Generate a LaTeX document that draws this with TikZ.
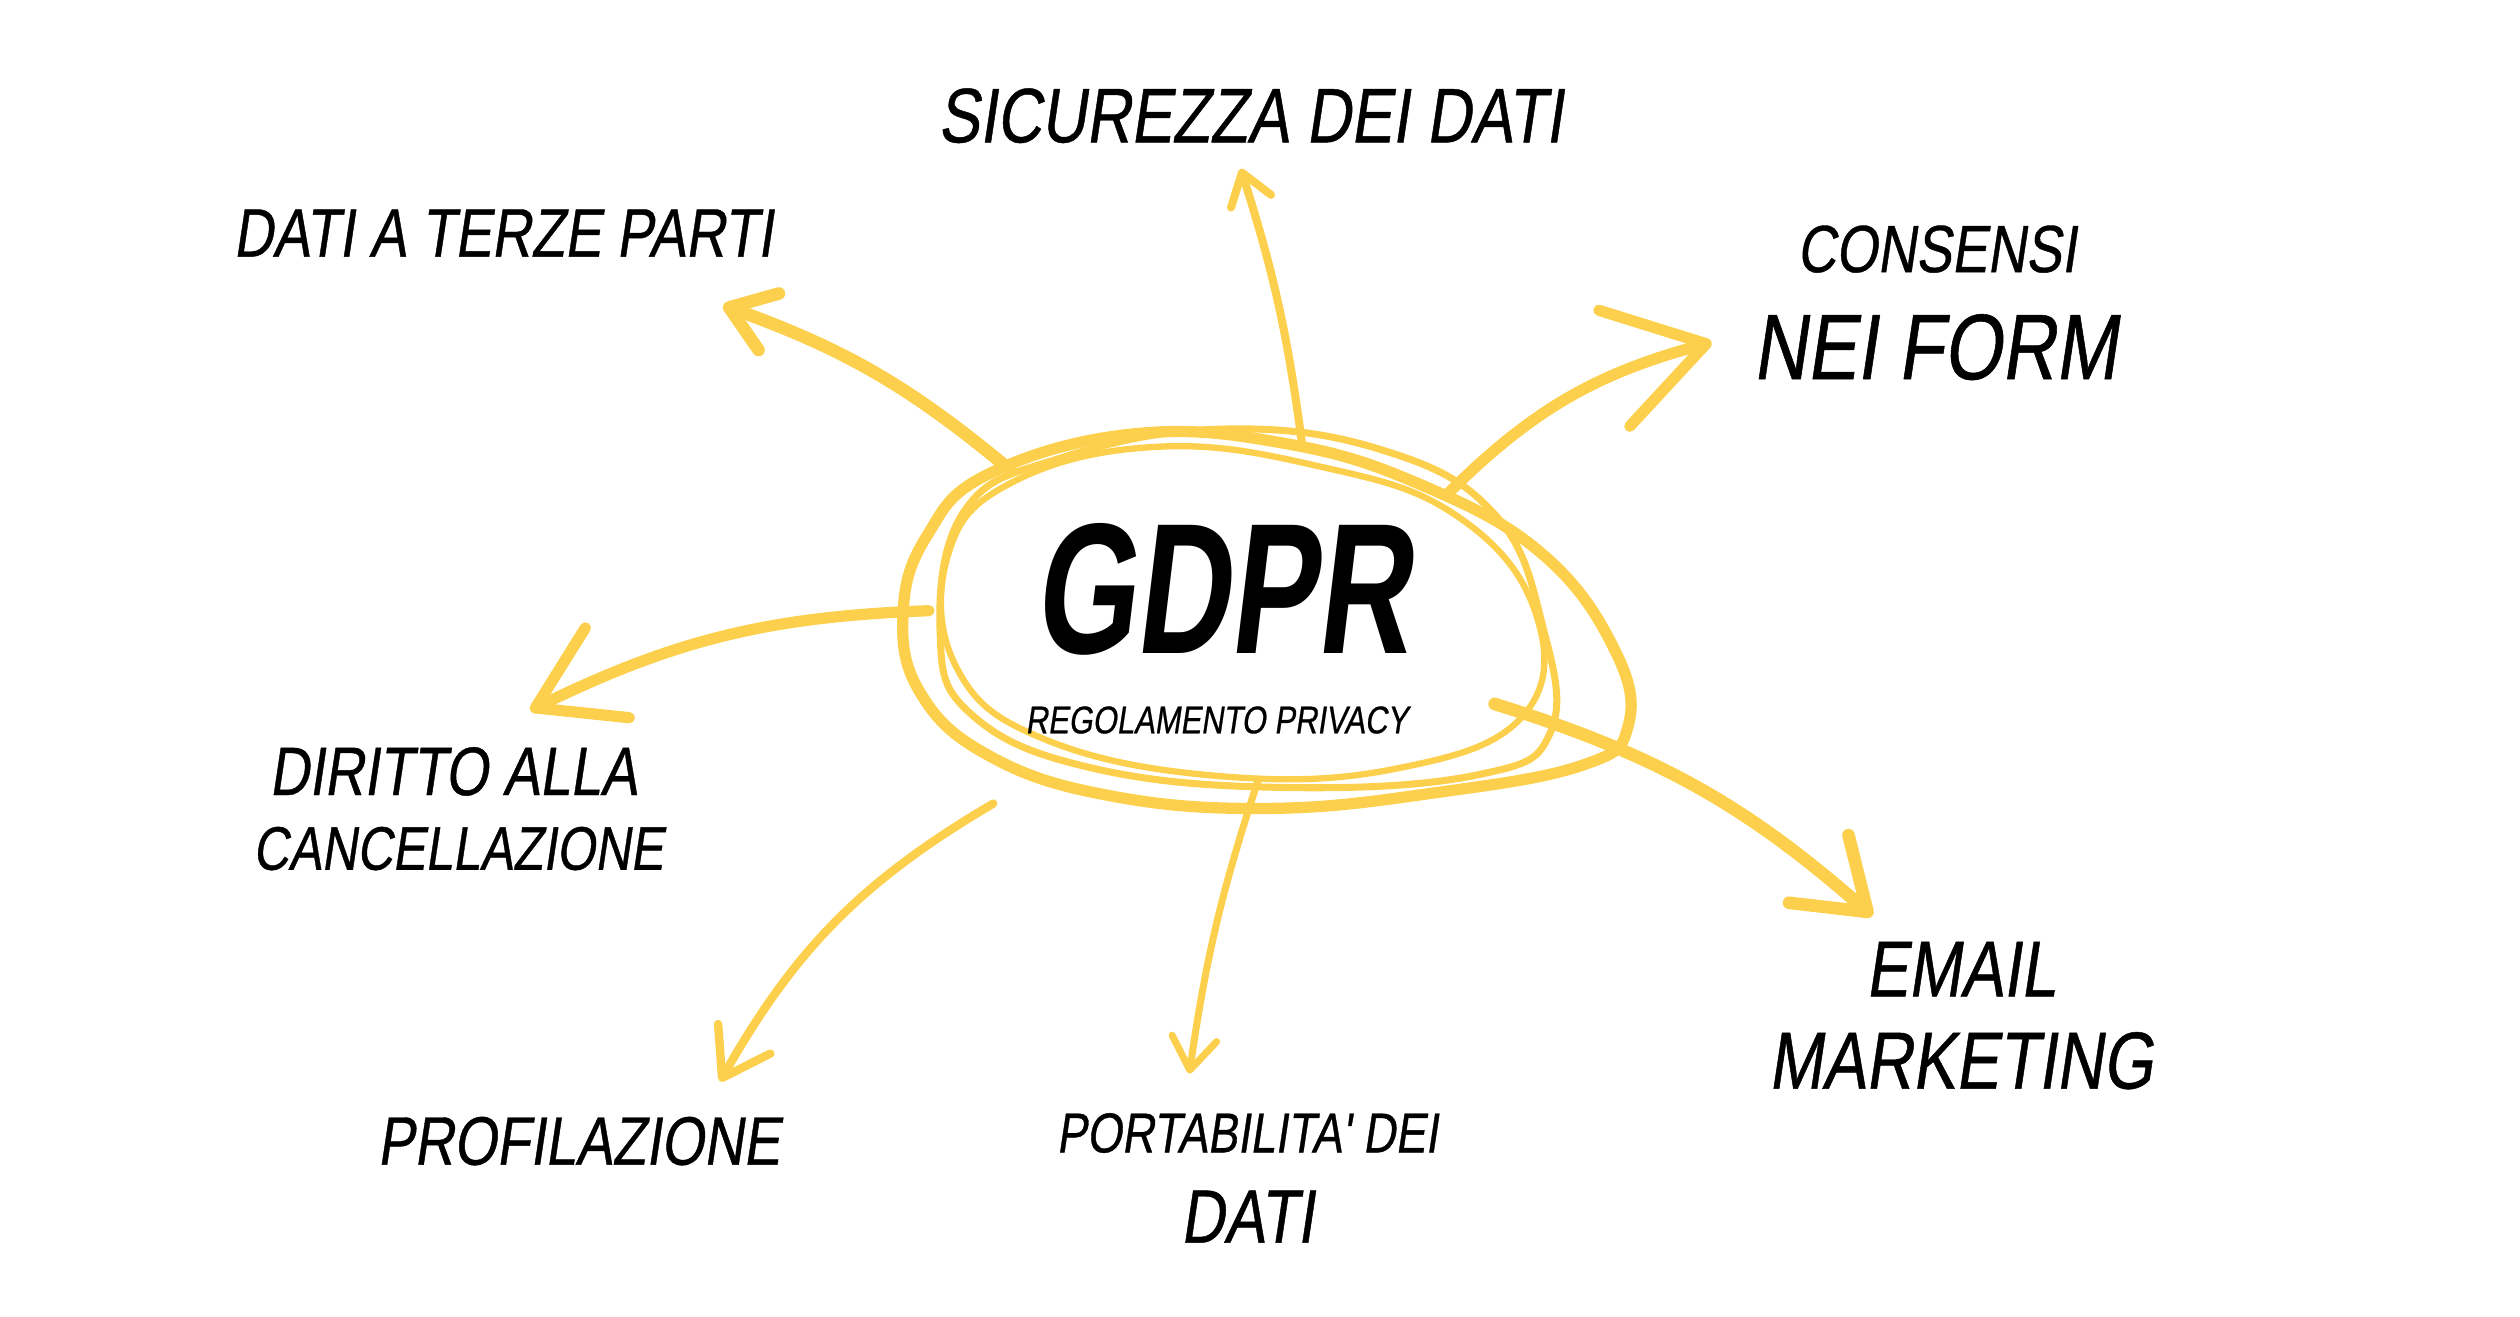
\documentclass[tikz,border=0pt]{standalone}
\usepackage{fontspec}
\newfontfamily\handfont[FakeStretch=0.8,FakeSlant=0.15,FakeBold=0.6]{Liberation Sans}
\newfontfamily\headfont[FakeStretch=0.7,FakeSlant=0.12]{Liberation Sans}
\definecolor{gdpryellow}{RGB}{252,208,76}
\usetikzlibrary{arrows.meta}

\begin{document}
\begin{tikzpicture}[x=0.01607cm, y=-0.01607cm,
    topic/.style={font=\handfont\fontsize{#1}{#1}\selectfont, inner sep=0pt},
    scribble/.style={draw=gdpryellow, line width=#1, line cap=round, line join=round},
    arr/.style n args={3}{draw=gdpryellow, line width=#1, line cap=round,
      -{Straight Barb[length=#2, width=#3, round]}}
  ]
    \useasboundingbox (0,0) rectangle (1568,819);
    % Scribbled loops round the title
    \draw[scribble=3.2pt] plot[smooth cycle, tension=0.7] coordinates {(615,295) (705,270) (800,276)
      (885,302) (960,345) (1005,405) (1013,452) (985,476) (895,493) (790,503) (690,495) (615,470)
      (572,430) (562,380) (577,333)};
    \draw[scribble=2pt] plot[smooth cycle, tension=0.7] coordinates {(600,318) (660,285) (760,267)
      (860,280) (930,320) (960,390) (965,455) (920,482) (800,490) (680,478) (605,445) (585,395)};
    \draw[scribble=1.8pt] plot[smooth cycle, tension=0.7] coordinates {(590,345) (630,300) (720,278)
      (820,290) (905,320) (955,380) (948,445) (870,478) (760,483) (650,460) (595,415)};
    % Title
    \node[font=\headfont\bfseries\fontsize{53}{53}\selectfont, inner sep=0pt] (gdpr) at (760,367) {GDPR};
    \node[topic=11] (regolamento) at (757,448) {REGOLAMENTO PRIVACY};
    % Topics
    \node[topic=22] (sicurezza) at (778,72) {SICUREZZA DEI DATI};
    \node[topic=19.5] (terze) at (313,145) {DATI A TERZE PARTI};
    \node[topic=19] (consensi) at (1205,155) {CONSENSI};
    \node[topic=26.5] (form) at (1204,216) {NEI FORM};
    \node[topic=19.5] (diritto) at (282,480) {DIRITTO ALLA};
    \node[topic=17.5] (cancellazione) at (285,528) {CANCELLAZIONE};
    \node[topic=19.5] (profilazione) at (360,710) {PROFILAZIONE};
    \node[topic=16] (portabilita) at (776,705) {PORTABILITA' DEI};
    \node[topic=21.5] (dati) at (776,757) {DATI};
    \node[topic=22.5] (email) at (1220,603) {EMAIL};
    \node[topic=23] (marketing) at (1220,660) {MARKETING};
    % Arrow ends
    \coordinate (terze-from) at (628,292);
    \coordinate (terze-to) at (450,190);
    \coordinate (sicurezza-from) at (810,275);
    \coordinate (sicurezza-to) at (772,105);
    \coordinate (form-from) at (900,308);
    \coordinate (form-to) at (1065,213);
    \coordinate (diritto-from) at (578,380);
    \coordinate (diritto-to) at (330,442);
    \coordinate (profilazione-from) at (618,500);
    \coordinate (profilazione-to) at (448,673);
    \coordinate (portabilita-from) at (783,485);
    \coordinate (portabilita-to) at (740,668);
    \coordinate (email-from) at (930,438);
    \coordinate (email-to) at (1165,570);
    % Arrows
    \draw[arr={3.6pt}{0.42cm}{0.6cm}] (terze-from) to[bend right=10] (terze-to);
    \draw[arr={2.3pt}{0.3cm}{0.42cm}] (sicurezza-from) to[bend right=5] (sicurezza-to);
    \draw[arr={3.2pt}{0.95cm}{1.2cm}] (form-from) to[bend left=15] (form-to);
    \draw[arr={3.2pt}{0.8cm}{1.0cm}] (diritto-from) to[bend right=12] (diritto-to);
    \draw[arr={2.4pt}{0.45cm}{0.6cm}] (profilazione-from) to[bend right=15] (profilazione-to);
    \draw[arr={2pt}{0.32cm}{0.45cm}] (portabilita-from) to[bend right=5] (portabilita-to);
    \draw[arr={3.6pt}{0.65cm}{0.9cm}] (email-from) to[bend left=12] (email-to);
  \end{tikzpicture}
\end{document}
